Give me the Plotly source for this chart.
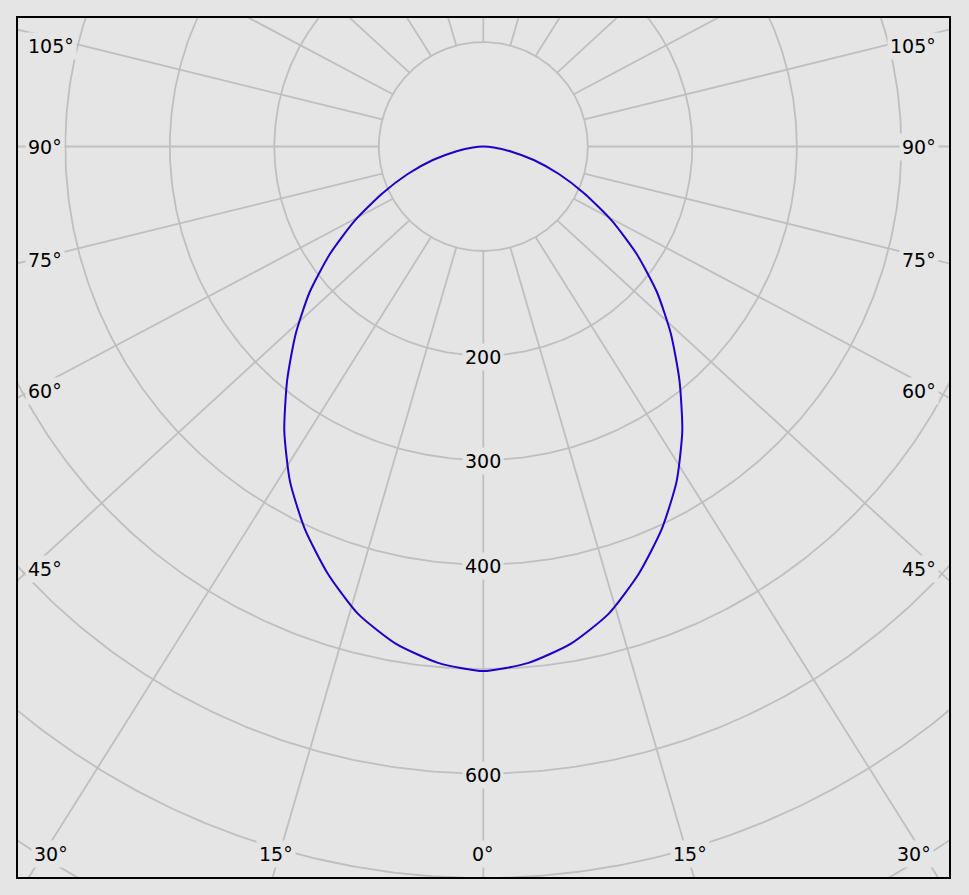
import numpy as np
import plotly.graph_objects as go

# ---------------- data ----------------
angles_deg = [0, 5, 10, 15, 20, 25, 30, 35, 40, 45, 50, 55, 60, 65, 70, 75, 80, 85, 90]
intensity = [502, 496, 483, 463, 435, 404, 370, 332, 292, 254, 217, 179, 142, 107, 77, 50, 26, 10, 0]

ring_values = [100, 200, 300, 400, 500, 600, 700, 800, 900]
ring_label_values = [200, 300, 400, 600]
spoke_step = 15
side_label_angles = [45, 60, 75, 90, 105]
bottom_label_angles = [0, 15, 30]

# ---------------- layout constants ----------------
W, H = 969, 895
L, R, T, B = 18, 20, 18, 18
CX, CY = 483.3, 146.5          # pixel position of the pole
SCALE = 1.045                  # pixels per unit
STRETCH = 1.08                 # horizontal stretch of the spoke directions
INNER = 100
OUTER = 1100
BG = "#e5e5e5"
GRID = "#bfbfbf"
FONT = dict(family="DejaVu Sans", size=19, color="black")


def xd(px):
    return (px - CX) / SCALE


def yd(py):
    return -(py - CY) / SCALE


def spoke(theta_deg):
    t = np.radians(theta_deg)
    p1 = np.array([INNER * np.sin(t), -INNER * np.cos(t)])
    d = np.array([STRETCH * np.sin(t), np.cos(t)])
    d = d / np.hypot(*d)
    p2 = np.array([OUTER * d[0], -OUTER * d[1]])
    return p1, p2


def spoke_y_at_x(theta_deg, x):
    p1, p2 = spoke(theta_deg)
    s = (x - p1[0]) / (p2[0] - p1[0])
    return p1[1] + s * (p2[1] - p1[1])


def spoke_x_at_y(theta_deg, y):
    p1, p2 = spoke(theta_deg)
    s = (y - p1[1]) / (p2[1] - p1[1])
    return p1[0] + s * (p2[0] - p1[0])


fig = go.Figure()

# rings
phi = np.linspace(0, 2 * np.pi, 721)
rx, ry = [], []
for v in ring_values:
    rx += list(v * np.cos(phi)) + [None]
    ry += list(v * np.sin(phi)) + [None]
fig.add_trace(go.Scatter(x=rx, y=ry, mode="lines", line=dict(color=GRID, width=1.8),
                         hoverinfo="skip", showlegend=False))

# spokes
sx, sy = [], []
for th in range(-180 + spoke_step, 181, spoke_step):
    p1, p2 = spoke(th)
    sx += [p1[0], p2[0], None]
    sy += [p1[1], p2[1], None]
fig.add_trace(go.Scatter(x=sx, y=sy, mode="lines", line=dict(color=GRID, width=1.8),
                         hoverinfo="skip", showlegend=False))

# intensity curve (symmetric)
ang = np.array(angles_deg, dtype=float)
val = np.array(intensity, dtype=float)
full_ang = np.concatenate([-ang[::-1], ang[1:]])
full_val = np.concatenate([val[::-1], val[1:]])
cx = full_val * np.sin(np.radians(full_ang))
cy = -full_val * np.cos(np.radians(full_ang))
fig.add_trace(go.Scatter(x=cx, y=cy, mode="lines",
                         line=dict(color="#1e00cc", width=2, shape="spline", smoothing=0.6),
                         hoverinfo="skip", showlegend=False))

annotations = []
# radial labels
for v in ring_label_values:
    annotations.append(dict(x=0, y=-v, xref="x", yref="y", text=str(v), showarrow=False,
                            font=FONT, bgcolor=BG, borderpad=2, xanchor="center",
                            yanchor="middle", yshift=-1))

# side angle labels
x_probe = 453 / SCALE
for a in side_label_angles:
    y = spoke_y_at_x(a, x_probe)
    y = min(y, yd(46))
    annotations.append(dict(x=xd(25), y=y, xref="x", yref="y", text=f"{a}°", showarrow=False,
                            font=FONT, bgcolor=BG, borderpad=2, xanchor="left", yanchor="middle"))
    annotations.append(dict(x=xd(939), y=y, xref="x", yref="y", text=f"{a}°", showarrow=False,
                            font=FONT, bgcolor=BG, borderpad=2, xanchor="right", yanchor="middle"))

# bottom angle labels
y_probe = yd(865)
for a in bottom_label_angles:
    xs = [0.0] if a == 0 else [-spoke_x_at_y(a, y_probe), spoke_x_at_y(a, y_probe)]
    for x in xs:
        x = max(min(x, xd(913.5)), xd(51))
        annotations.append(dict(x=x, y=yd(853.5), xref="x", yref="y", text=f"{a}°",
                                showarrow=False, font=FONT, bgcolor=BG, borderpad=2,
                                xanchor="center", yanchor="middle"))

fig.update_layout(
    width=W, height=H,
    margin=dict(l=L, r=R, t=T, b=B),
    paper_bgcolor=BG, plot_bgcolor=BG,
    annotations=annotations,
    hovermode=False,
    xaxis=dict(range=[xd(L), xd(W - R)], showgrid=False, zeroline=False, showticklabels=False,
               showline=True, mirror=True, linecolor="black", linewidth=1.5, ticks="",
               fixedrange=True),
    yaxis=dict(range=[yd(H - B), yd(T)], showgrid=False, zeroline=False, showticklabels=False,
               showline=True, mirror=True, linecolor="black", linewidth=1.5, ticks="",
               fixedrange=True),
)

page_js = ("document.body.style.margin='0';document.body.style.padding='0';"
           "document.body.style.overflow='hidden';document.body.style.background='" + BG + "';")
fig.write_html("out.html", config={"displayModeBar": False}, post_script=page_js)
